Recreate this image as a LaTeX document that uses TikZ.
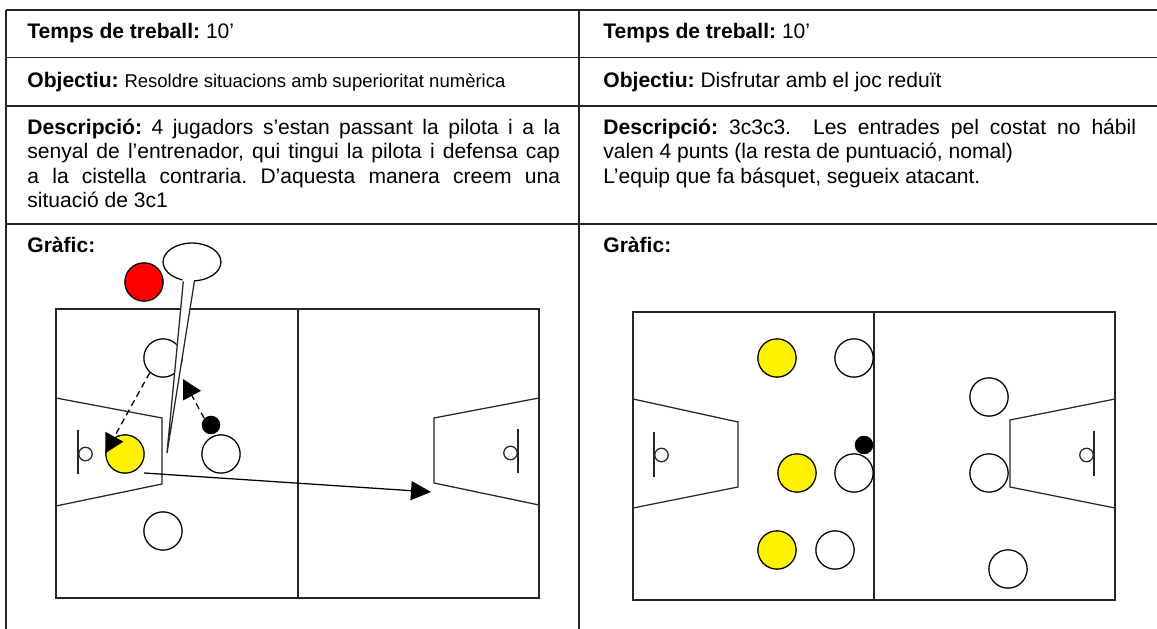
\documentclass[tikz,border=0pt]{standalone}
\usepackage{fontspec}
\setmainfont{Liberation Sans}
\usetikzlibrary{arrows.meta,shapes.geometric}
\frenchspacing
\begin{document}
\begin{tikzpicture}[x=0.475pt,y=-0.475pt,
  tline/.style={line width=0.8pt,black!85},
  cline/.style={line width=0.6pt,black!85},
  player/.style={circle,draw=black,line width=0.6pt,minimum size=18.2pt,inner sep=0pt,fill=white},
  yplayer/.style={player,fill=yellow},
  rplayer/.style={player,fill=red},
  ball/.style={circle,fill=black,minimum size=8.8pt,inner sep=0pt},
  txt/.style={anchor=base west,inner sep=0pt,font=\fontsize{10}{11.5}\selectfont},
  pass/.style={line width=0.6pt,dash pattern=on 3pt off 2pt,-{Triangle[length=9pt,width=9.5pt]}},
  move/.style={line width=0.6pt,-{Triangle[length=9.5pt,width=9pt]}},
  bubble/.style={ellipse,draw=black,fill=white,line width=0.6pt,minimum width=27.5pt,minimum height=18pt,inner sep=0pt},
]
\useasboundingbox (0,0) rectangle (1157,629);
\fill[white] (0,0) rectangle (1157,629);

% table
\draw[tline] (6,10) -- (1157,10);
\draw[tline] (6,57.5) -- (1157,57.5);
\draw[tline] (6,106) -- (1157,106);
\draw[tline] (6,224) -- (1157,224);
\draw[tline] (6,10) -- (6,629);
\draw[tline] (579,10) -- (579,629);

% left texts
\node[txt] (lt) at (27,39) {\textbf{Temps de treball:} 10’};
\node[txt] (lo) at (27,88) {\textbf{Objectiu:} {\fontsize{8.8}{11}\selectfont Resoldre situacions amb superioritat numèrica}};
\node[txt] (ld1) at (27,134.5) {\makebox[253pt][s]{\textbf{Descripció:} 4 jugadors s’estan passant la pilota i a la}};
\node[txt] (ld2) at (27,159) {\makebox[253pt][s]{senyal de l’entrenador, qui tingui la pilota i defensa cap}};
\node[txt] (ld3) at (27,183.5) {\makebox[253pt][s]{a la cistella contraria. D’aquesta manera creem una}};
\node[txt] (ld4) at (27,208) {situació de 3c1};
\node[txt] (lg) at (27,253) {\textbf{Gràfic:}};

% right texts
\node[txt] (rt) at (603,39) {\textbf{Temps de treball:} 10’};
\node[txt] (ro) at (603,88) {\textbf{Objectiu:} Disfrutar amb el joc reduït};
\node[txt] (rd1) at (603,134.5) {\makebox[253pt][s]{\textbf{Descripció:} 3c3c3.\ \ Les entrades pel costat no hábil}};
\node[txt] (rd2) at (603,159) {valen 4 punts (la resta de puntuació, nomal)};
\node[txt] (rd3) at (603,183.5) {L’equip que fa básquet, segueix atacant.};
\node[txt] (rg) at (603,253) {\textbf{Gràfic:}};

% ---------- left court ----------
\draw[cline] (56,309) rectangle (539,598);
\draw[cline] (298,309) -- (298,598);
\draw[cline] (56,398) -- (162,418) -- (162,484) -- (56,506);
\draw[cline] (539,398) -- (434,418) -- (434,483) -- (539,505);
\draw[cline] (78,430) -- (78,474);
\draw[cline] (85.5,454) circle[radius=3.2pt];
\draw[cline] (518,429) -- (518,473);
\draw[cline] (510.5,453) circle[radius=3.2pt];

\node[rplayer] (r1) at (144,282) {};
\node[player] (w1) at (163,358) {};
\node[yplayer] (y1) at (125,454) {};
\node[player] (w2) at (221,454) {};
\node[player] (w3) at (163,531) {};
\node[ball] (b1) at (211,425) {};

\coordinate (t2) at (183,379);
\coordinate (s3) at (144,473);
\coordinate (t3) at (431,492);
\draw[pass] (w1.228) -- (y1.178);
\draw[pass] (b1.135) -- (t2);
\draw[move] (s3) -- (t3);

% speech bubble
\node[bubble] (bub) at (192,262) {};
\coordinate (tail) at (167,453);
\fill[white] (183,275) -- (tail) -- (195,275) -- cycle;
\draw[cline] (183.3,281.5) -- (tail) -- (194.5,280.8);

% ---------- right court ----------
\draw[cline] (633,312) rectangle (1115,600);
\draw[cline] (874,312) -- (874,600);
\draw[cline] (633,399) -- (738,422) -- (738,487) -- (633,508);
\draw[cline] (1115,399) -- (1010,420) -- (1010,487) -- (1115,508);
\draw[cline] (654,432) -- (654,477);
\draw[cline] (661.5,455) circle[radius=3.2pt];
\draw[cline] (1094,431) -- (1094,476);
\draw[cline] (1086.5,455) circle[radius=3.2pt];

\node[yplayer] (ya) at (777,358) {};
\node[yplayer] (yb) at (797,473) {};
\node[yplayer] (yc) at (777,550) {};
\node[player] (wa) at (854,358) {};
\node[player] (wb) at (854,473) {};
\node[player] (wc) at (835,550) {};
\node[player] (wd) at (989,397) {};
\node[player] (we) at (989,473) {};
\node[player] (wf) at (1008,569) {};
\node[ball] (b2) at (864,445) {};
\end{tikzpicture}
\end{document}
